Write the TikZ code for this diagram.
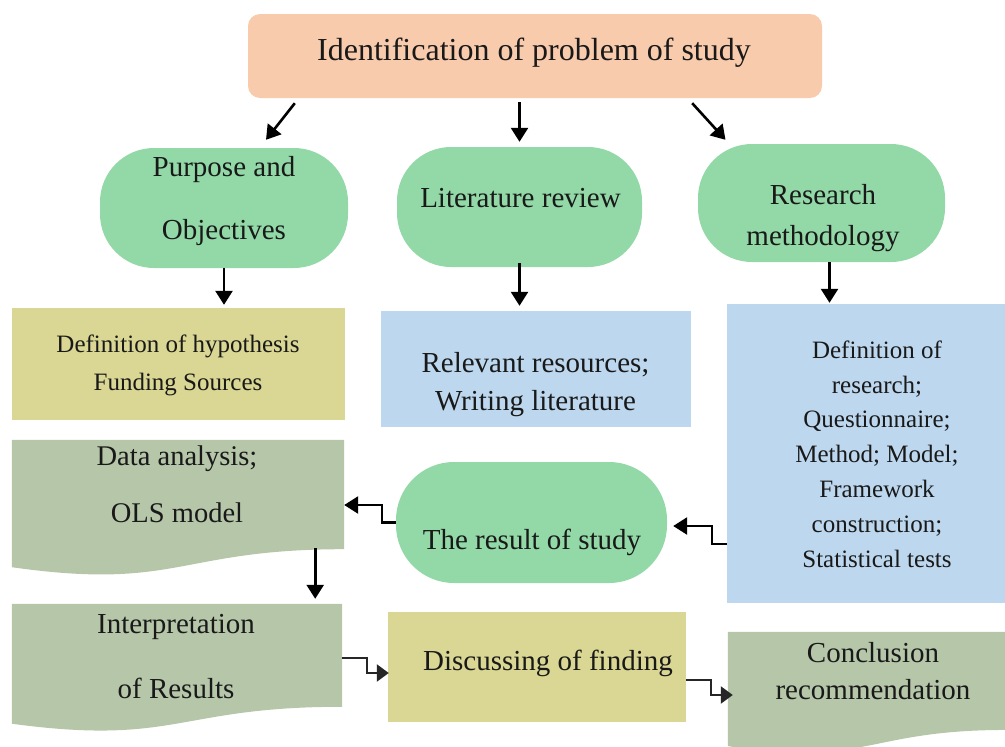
\documentclass[tikz,border=0pt]{standalone}
\usepackage{fontspec}
\setmainfont{Liberation Serif}
\usetikzlibrary{arrows.meta,calc}

\definecolor{peach}{HTML}{F8CBAD}
\definecolor{mint}{HTML}{92D9A7}
\definecolor{skyblue}{HTML}{BDD7EE}
\definecolor{olive}{HTML}{D9D793}
\definecolor{sage}{HTML}{B6C6A9}

% flowchart "document" shape: filled body with a wavy lower edge
\newcommand\wavedoc[2]{%
  \fill[#2] (#1.north west) -- (#1.north east)
    -- ($(#1.north east)!0.802!(#1.south east)$)
    .. controls ($(#1.north)!0.802!(#1.south)$) and ($(#1.north)!1.107!(#1.south)$)
    .. ($(#1.north west)!0.934!(#1.south west)$) -- cycle;}

\begin{document}
\begin{tikzpicture}[x=1pt,y=-1pt,
  box/.style={rectangle,inner sep=0pt,draw=none},
  pill/.style={box,fill=mint,rounded corners=54pt},
  docnode/.style={box,fill=none},
  txt/.style={inner sep=0pt,align=center,text=black!90},
  arr/.style={line width=2.6pt,-{Triangle[length=14pt,width=17pt]}},
  elbow/.style={line width=2.3pt,black!85,-{Triangle[length=12pt,width=17pt]}}]

\useasboundingbox (0,0) rectangle (1005,747);

% shapes
\node[box,fill=peach,rounded corners=12pt,minimum width=574pt,minimum height=84pt] (title) at (535,56) {};
\node[pill,minimum width=248pt,minimum height=120pt] (purp) at (224,208) {};
\node[pill,minimum width=245pt,minimum height=120pt] (lit) at (519.5,207) {};
\node[pill,minimum width=247pt,minimum height=118pt] (meth) at (821.5,203) {};
\node[pill,rounded corners=58pt,minimum width=271pt,minimum height=121pt] (result) at (531.5,522.5) {};
\node[box,fill=olive,minimum width=333pt,minimum height=112pt] (hyp) at (178.5,364) {};
\node[box,fill=skyblue,minimum width=310pt,minimum height=116pt] (rel) at (536,369) {};
\node[box,fill=skyblue,minimum width=278pt,minimum height=299pt] (rbox) at (866,453.5) {};
\node[box,fill=olive,minimum width=298pt,minimum height=110pt] (disc) at (537,667) {};
\node[docnode,minimum width=332pt,minimum height=136pt] (data) at (178,508) {};
\node[docnode,minimum width=330pt,minimum height=128pt] (interp) at (177,668) {};
\node[docnode,minimum width=277pt,minimum height=122pt] (concl) at (866.5,693) {};
\wavedoc{data}{sage}
\wavedoc{interp}{sage}
\wavedoc{concl}{sage}

% texts
\node[txt,font=\fontsize{32}{38}\selectfont] (t-title) at (534,53) {Identification of problem of study};
\node[txt,font=\fontsize{29}{63}\selectfont] (t-purp) at (224,201) {Purpose and\\Objectives};
\node[txt,font=\fontsize{29}{34}\selectfont] (t-lit) at (520.5,198) {Literature review};
\node[txt,font=\fontsize{29}{41}\selectfont] (t-meth) at (823,218) {Research\\methodology};
\node[txt,font=\fontsize{25}{38}\selectfont] (t-hyp) at (178,365) {Definition of hypothesis\\Funding Sources};
\node[txt,font=\fontsize{29}{38}\selectfont] (t-rel) at (535.5,385) {Relevant resources;\\Writing literature};
\node[txt,font=\fontsize{25}{34.8}\selectfont] (t-rbox) at (877,454) {Definition of\\research;\\Questionnaire;\\Method; Model;\\Framework\\construction;\\Statistical tests};
\node[txt,font=\fontsize{28.5}{57}\selectfont] (t-data) at (177,484) {Data analysis;\\OLS model};
\node[txt,font=\fontsize{29}{34}\selectfont] (t-result) at (532,542) {The result of study};
\node[txt,font=\fontsize{29}{65}\selectfont] (t-interp) at (176,657) {Interpretation\\of Results};
\node[txt,font=\fontsize{29}{34}\selectfont] (t-disc) at (548,663) {Discussing of finding};
\node[txt,font=\fontsize{29}{37}\selectfont] (t-concl) at (873,671) {Conclusion\\recommendation};

% connectors
\draw[arr] ([xshift=47pt,yshift=-5pt]title.south west) -- ([xshift=42pt,yshift=8pt]purp.north);
\draw[arr] ([yshift=-4pt]title.south -| lit.north) -- ([yshift=5pt]lit.north);
\draw[arr] ([xshift=-130pt,yshift=-5pt]title.south east) -- ([xshift=-96pt,yshift=4pt]meth.north);
\draw[arr] (purp.south) -- ([yshift=3pt]purp.south |- hyp.north);
\draw[arr] ([yshift=4pt]lit.south) -- ([yshift=5pt]lit.south |- rel.north);
\draw[arr] ([xshift=8pt]meth.south) -- ([xshift=8pt,yshift=1pt]meth.south |- rbox.north);
\draw[arr] ([xshift=-29pt,yshift=28pt]data.south east) -- ([xshift=-27pt,yshift=5pt]interp.north east);
\draw[arr] (result.west) -- ++(-14,0) |- ([yshift=3pt]data.east);
\draw[arr] (rbox.west |- 0,544) -- ++(-15,0) |- ([xshift=6pt,yshift=-3.5pt]result.east);
\draw[elbow] ([yshift=10pt]interp.east) -- ++(25,0) |- ([xshift=1pt,yshift=-6pt]disc.west);
\draw[elbow] ([yshift=-13pt]disc.east) -- ++(25,0) |- ([xshift=5pt,yshift=-2pt]concl.west);
\end{tikzpicture}
\end{document}
